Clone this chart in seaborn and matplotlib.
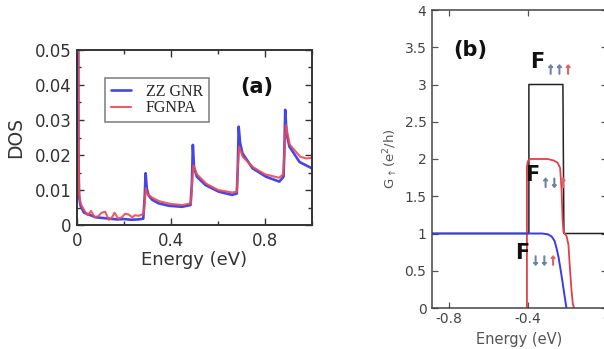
import matplotlib
matplotlib.use("Agg")
import matplotlib.pyplot as plt
import matplotlib.patheffects as pe
import seaborn as sns
import pandas as pd
from matplotlib.ticker import MultipleLocator

# ---------------- data: panel (a) DOS ----------------
zz_energy = [0.005, 0.006, 0.009, 0.015, 0.02, 0.03, 0.05, 0.08, 0.11, 0.14, 0.17, 0.2, 0.23, 0.26, 0.282,
             0.288, 0.292, 0.297, 0.305, 0.32, 0.347, 0.39, 0.447, 0.483,
             0.489, 0.493, 0.498, 0.51, 0.547, 0.604, 0.66, 0.68,
             0.684, 0.688, 0.694, 0.704, 0.747, 0.804, 0.861, 0.879,
             0.882, 0.886, 0.892, 0.904, 0.947, 0.976, 1.0]
zz_dos = [0.08, 0.02, 0.008, 0.0055, 0.0048, 0.0035, 0.003, 0.0022, 0.002, 0.0018, 0.0016, 0.0017, 0.0015, 0.0016, 0.0018,
          0.008, 0.0148, 0.0105, 0.0084, 0.0072, 0.0062, 0.0055, 0.0052, 0.0057,
          0.012, 0.0229, 0.0165, 0.0138, 0.0114, 0.0095, 0.0086, 0.009,
          0.016, 0.0281, 0.0235, 0.0205, 0.0162, 0.0138, 0.0124, 0.0138,
          0.02, 0.0329, 0.026, 0.0224, 0.018, 0.017, 0.0162]

fg_energy = [0.005, 0.006, 0.009, 0.015, 0.02, 0.03, 0.045, 0.06, 0.075, 0.09, 0.105, 0.12, 0.135, 0.147, 0.16, 0.175,
             0.19, 0.205, 0.22, 0.235, 0.247, 0.262, 0.276, 0.284,
             0.289, 0.293, 0.3, 0.32, 0.35, 0.4, 0.45, 0.485,
             0.49, 0.495, 0.51, 0.55, 0.6, 0.66, 0.68,
             0.685, 0.69, 0.705, 0.75, 0.8, 0.86, 0.878,
             0.883, 0.889, 0.905, 0.95, 0.976, 1.0]
fg_dos = [0.08, 0.025, 0.009, 0.0062, 0.0055, 0.0043, 0.0028, 0.004, 0.0022, 0.0025, 0.0035, 0.0038, 0.0015, 0.002, 0.0035, 0.0018,
          0.0022, 0.0032, 0.003, 0.0022, 0.0028, 0.0026, 0.003, 0.0032,
          0.0075, 0.0105, 0.0088, 0.0078, 0.0068, 0.006, 0.0057, 0.0062,
          0.0125, 0.0171, 0.0145, 0.0118, 0.01, 0.0093, 0.0095,
          0.017, 0.0224, 0.0195, 0.0165, 0.0145, 0.0135, 0.0145,
          0.022, 0.0286, 0.023, 0.0195, 0.019, 0.0192]

# ---------------- data: panel (b) conductance ----------------
uuu_energy = [-0.89, -0.395, -0.395, -0.223, -0.218, 0.05]
uuu_g = [1.0, 1.0, 3.0, 3.0, 1.0, 1.0]

udu_energy = [-0.405, -0.405, -0.40, -0.39, -0.30, -0.27, -0.25, -0.237, -0.23, -0.225, -0.22, -0.214,
              -0.205, -0.195, -0.188, -0.18, -0.173, -0.167]
udu_g = [0.0, 1.9, 1.97, 2.0, 2.0, 1.98, 1.95, 1.88, 1.6, 1.2, 1.02, 1.0,
         0.97, 0.85, 0.55, 0.25, 0.06, 0.0]

ddu_energy = [-0.89, -0.33, -0.30, -0.28, -0.265, -0.255, -0.245, -0.235, -0.225, -0.215, -0.205]
ddu_g = [1.0, 1.0, 0.99, 0.96, 0.9, 0.8, 0.68, 0.52, 0.35, 0.17, 0.0]

# ---------------- styling ----------------
sns.set_style("ticks")
plt.rcParams['font.family'] = ['DejaVu Sans']

BLUE = "#4646e6"
RED = "#ec4a55"

fig = plt.figure(figsize=(6.04, 3.49), dpi=100)

# ---------- panel (a) ----------
axa = fig.add_axes([77 / 604, (349 - 225) / 349, 235 / 604, 175 / 349])
dfa1 = pd.DataFrame({"E": zz_energy, "DOS": zz_dos})
dfa2 = pd.DataFrame({"E": fg_energy, "DOS": fg_dos})
sns.lineplot(data=dfa1, x="E", y="DOS", ax=axa, color=BLUE, lw=1.9, sort=False,
             estimator=None, label="ZZ GNR")
sns.lineplot(data=dfa2, x="E", y="DOS", ax=axa, color=RED, lw=1.5, sort=False,
             estimator=None, label="FGNPA", alpha=0.9)
axa.set_xlim(0, 1.0)
axa.set_ylim(0, 0.05)
axa.set_xticks([0, 0.4, 0.8])
axa.set_xticklabels(["0", "0.4", "0.8"])
axa.xaxis.set_minor_locator(MultipleLocator(0.2))
axa.set_yticks([0, 0.01, 0.02, 0.03, 0.04, 0.05])
axa.set_yticklabels(["0", "0.01", "0.02", "0.03", "0.04", "0.05"])
axa.yaxis.set_minor_locator(MultipleLocator(0.005))
axa.tick_params(which="both", direction="in", top=True, right=True, colors="#333333",
                labelsize=12, labelcolor="#333333", width=1)
axa.tick_params(which="major", length=5)
axa.tick_params(which="minor", length=3)
axa.tick_params(axis="x", which="major", pad=5)
axa.tick_params(axis="y", which="major", pad=4)
for s in axa.spines.values():
    s.set_linewidth(1.4)
    s.set_color("#333333")
axa.set_xlabel("Energy (eV)", fontsize=13, color="#333333", labelpad=1)
axa.set_ylabel("DOS", fontsize=13.5, color="#333333", labelpad=7)
leg = axa.legend(loc="upper left", bbox_to_anchor=(0.119, 0.84), frameon=True, fancybox=False,
                 prop={"family": "Liberation Serif", "size": 11.5}, handlelength=1.3,
                 borderpad=0.35, labelspacing=0.05, handletextpad=0.9, borderaxespad=0)
leg.get_frame().set_edgecolor("#666666")
leg.get_frame().set_linewidth(1.2)
axa.text(0.764, 0.789, "(a)", transform=axa.transAxes, fontsize=15, fontweight="bold",
         ha="center", va="center", color="#111111")

# ---------- panel (b) ----------
axb = fig.add_axes([432 / 604, (349 - 308) / 349, 175 / 604, 298 / 349])
dfb1 = pd.DataFrame({"E": uuu_energy, "G": uuu_g})
dfb2 = pd.DataFrame({"E": udu_energy, "G": udu_g})
dfb3 = pd.DataFrame({"E": ddu_energy, "G": ddu_g})
sns.lineplot(data=dfb1, x="E", y="G", ax=axb, color="#222222", lw=1.1, sort=False, estimator=None)
sns.lineplot(data=dfb2, x="E", y="G", ax=axb, color="#e0404a", lw=1.3, sort=False, estimator=None)
sns.lineplot(data=dfb3, x="E", y="G", ax=axb, color="#3a3ae8", lw=1.4, sort=False, estimator=None)
axb.set_xlim(-0.885, 0.0)
axb.set_ylim(0, 4)
axb.set_xticks([-0.8, -0.4, 0.0])
axb.set_xticklabels(["-0.8", "-0.4", "0"])
axb.xaxis.set_minor_locator(MultipleLocator(0.2))
axb.set_yticks([0, 0.5, 1, 1.5, 2, 2.5, 3, 3.5, 4])
axb.set_yticklabels(["0", "0.5", "1", "1.5", "2", "2.5", "3", "3.5", "4"])
axb.yaxis.set_minor_locator(MultipleLocator(0.25))
axb.tick_params(which="both", direction="in", top=True, right=True, colors="#555555",
                labelsize=10, labelcolor="#444444", width=0.9)
axb.tick_params(which="major", length=4)
axb.tick_params(which="minor", length=0)
axb.tick_params(axis="x", which="major", pad=3)
axb.tick_params(axis="y", which="major", pad=4)
for s in axb.spines.values():
    s.set_linewidth(1.1)
    s.set_color("#444444")
axb.set_xlabel("Energy (eV)", fontsize=10.5, color="#555555", labelpad=4)
axb.set_ylabel("G$_{\\uparrow}$(e$^2$/h)", fontsize=9.5, color="#555555", labelpad=3)
axb.text(0.217, 0.866, "(b)", transform=axb.transAxes, fontsize=15, fontweight="bold",
         ha="center", va="center", color="#111111")

ARR = "#6f82a6"
AR2 = "#e06468"
labels = [
    (0.60, 0.826, ["↑", "↑", "↑"]),
    (0.571, 0.446, ["↑", "↓", "↑"]),
    (0.514, 0.185, ["↓", "↓", "↑"]),
]
for fx, fy, arrows in labels:
    axb.text(fx, fy, "F", transform=axb.transAxes, fontsize=15, fontweight="bold",
             ha="center", va="center", color="#111111")
    for k, a in enumerate(arrows):
        col = AR2 if k == 2 else ARR
        axb.text(fx + 0.078 + k * 0.05, fy - 0.026, a, transform=axb.transAxes,
                 fontsize=11, fontweight="bold", ha="center", va="center",
                 color=col, family=["Liberation Sans", "DejaVu Sans"],
                 path_effects=[pe.withStroke(linewidth=1.0, foreground=col)])

fig.savefig("out.png", dpi=100)
